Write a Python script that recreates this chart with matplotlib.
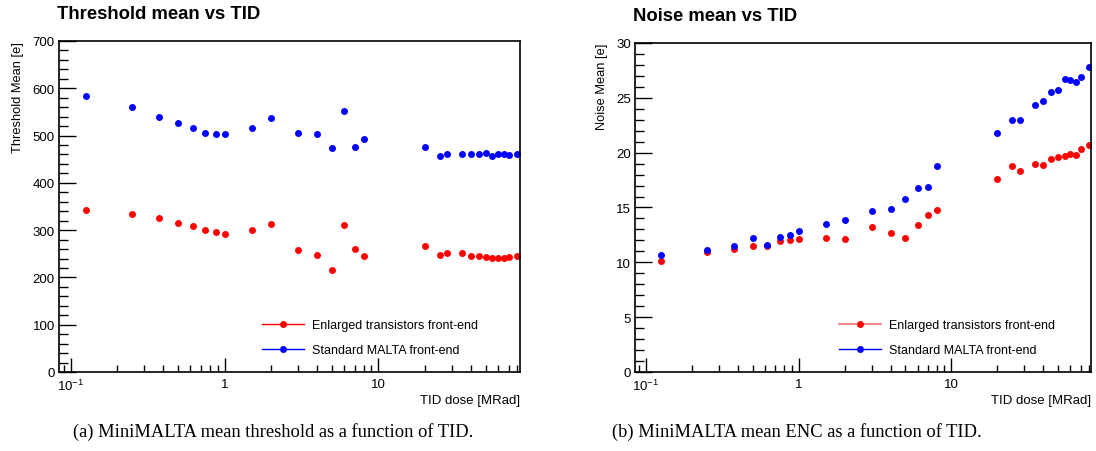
import numpy as np
import matplotlib
matplotlib.use("Agg")
import matplotlib.pyplot as plt
from matplotlib.ticker import FixedLocator, FixedFormatter, MultipleLocator, LogLocator, NullFormatter
from matplotlib.lines import Line2D

plt.rcParams['font.family'] = ['Liberation Sans', 'DejaVu Sans']
plt.rcParams['mathtext.fontset'] = 'custom'
plt.rcParams['mathtext.rm'] = 'Liberation Sans'
plt.rcParams['mathtext.it'] = 'Liberation Sans'
plt.rcParams['mathtext.bf'] = 'Liberation Sans:bold'

# ---------------- data ----------------
dose = [0.125, 0.25, 0.375, 0.5, 0.625, 0.75, 0.875, 1, 1.5, 2, 3, 4, 5, 6, 7, 8,
        20, 25, 28, 35, 40, 45, 50, 55, 60, 65, 70, 80]

thr_std = [584, 560, 540, 527, 517, 506, 503, 503, 516, 538, 505, 503, 473, 553, 476, 493,
           476, 457, 461, 461, 462, 460, 463, 457, 461, 460, 458, 462]
thr_enl = [343, 335, 325, 315, 308, 301, 295, 291, 301, 313, 258, 248, 215, 311, 261, 245,
           267, 247, 252, 252, 245, 245, 244, 241, 242, 241, 243, 245]

noise_std = [10.7, 11.1, 11.5, 12.2, 11.6, 12.3, 12.5, 12.9, 13.5, 13.9, 14.7, 14.9, 15.8, 16.8, 16.9, 18.8,
             21.8, 23.0, 23.0, 24.3, 24.7, 25.5, 25.7, 26.7, 26.6, 26.4, 26.9, 27.8]
noise_enl = [10.1, 10.9, 11.2, 11.5, 11.5, 11.9, 12.0, 12.1, 12.2, 12.1, 13.2, 12.7, 12.2, 13.4, 14.3, 14.8,
             17.6, 18.8, 18.3, 19.0, 18.9, 19.4, 19.6, 19.7, 19.9, 19.8, 20.3, 20.7]

lbl_enl = "Enlarged transistors front-end"
lbl_std = "Standard MALTA front-end"

fig = plt.figure(figsize=(10.96, 4.52), dpi=100)


def style_axis(ax, ymax, ymajor, yminor, xlim):
    ax.set_xscale('log')
    ax.set_xlim(*xlim)
    ax.set_ylim(0, ymax)
    ax.xaxis.set_major_locator(FixedLocator([0.1, 1, 10]))
    ax.xaxis.set_major_formatter(FixedFormatter(['$10^{-1}$', '1', '10']))
    ax.xaxis.set_minor_locator(LogLocator(base=10, subs=np.arange(2, 10)))
    ax.xaxis.set_minor_formatter(NullFormatter())
    ax.yaxis.set_major_locator(MultipleLocator(ymajor))
    ax.yaxis.set_minor_locator(MultipleLocator(yminor))
    ax.tick_params(which='both', direction='in', top=False, right=False, labelsize=9.5, width=1)
    ax.tick_params(axis='y', which='major', length=12.5, pad=3)
    ax.tick_params(axis='y', which='minor', length=6.5)
    ax.tick_params(axis='x', which='major', length=10, pad=4)
    ax.tick_params(axis='x', which='minor', length=5)
    for s in ax.spines.values():
        s.set_linewidth(1.2)


def add_legend(ax, handles, x0):
    ax.legend(handles, [lbl_enl, lbl_std], loc='upper left', bbox_to_anchor=(x0, 0.160),
              frameon=False, fontsize=9, handlelength=3.4, handletextpad=0.65,
              borderpad=0, borderaxespad=0, labelspacing=1.05)


# ---------------- (a) threshold ----------------
ax1 = fig.add_axes([0.0538, 0.1748, 0.4206, 0.7323])
ax1.plot(dose, thr_enl, 'o', color='red', ms=5, mec='none')
ax1.plot(dose, thr_std, 'o', color='blue', ms=5, mec='none')
style_axis(ax1, 700, 100, 20, (0.084, 83))
ax1.set_ylabel('Threshold Mean [e]', fontsize=9.3, loc='top', labelpad=6)
ax1.set_xlabel('TID dose [MRad]', fontsize=9.5, loc='right', labelpad=1)
fig.text(0.052, 0.968, 'Threshold mean vs TID', fontsize=13.3, fontweight='bold', va='center', ha='left')
h1 = [Line2D([], [], color='red', marker='o', ms=5, mec='none', lw=1),
      Line2D([], [], color='blue', marker='o', ms=5, mec='none', lw=1)]
add_legend(ax1, h1, 0.44)

# ---------------- (b) noise ----------------
ax2 = fig.add_axes([0.5794, 0.1748, 0.4161, 0.7279])
ax2.plot(dose, noise_enl, 'o', color='red', ms=5, mec='none')
ax2.plot(dose, noise_std, 'o', color='blue', ms=5, mec='none')
style_axis(ax2, 30, 5, 1, (0.085, 82))
ax2.set_ylabel('Noise Mean [e]', fontsize=9.3, loc='top', labelpad=6)
ax2.set_xlabel('TID dose [MRad]', fontsize=9.5, loc='right', labelpad=1)
fig.text(0.578, 0.963, 'Noise mean vs TID', fontsize=13.3, fontweight='bold', va='center', ha='left')
h2 = [Line2D([], [], color='#f07070', marker='o', ms=5, mfc='red', mec='none', lw=1.2),
      Line2D([], [], color='blue', marker='o', ms=5, mec='none', lw=1)]
add_legend(ax2, h2, 0.447)

# ---------------- captions ----------------
fig.text(0.0665, 0.045, '(a) MiniMALTA mean threshold as a function of TID.', fontsize=13.3,
         family=['Liberation Serif', 'DejaVu Serif'], va='center', ha='left')
fig.text(0.558, 0.045, '(b) MiniMALTA mean ENC as a function of TID.', fontsize=13.3,
         family=['Liberation Serif', 'DejaVu Serif'], va='center', ha='left')

fig.savefig('out.png', dpi=100)
